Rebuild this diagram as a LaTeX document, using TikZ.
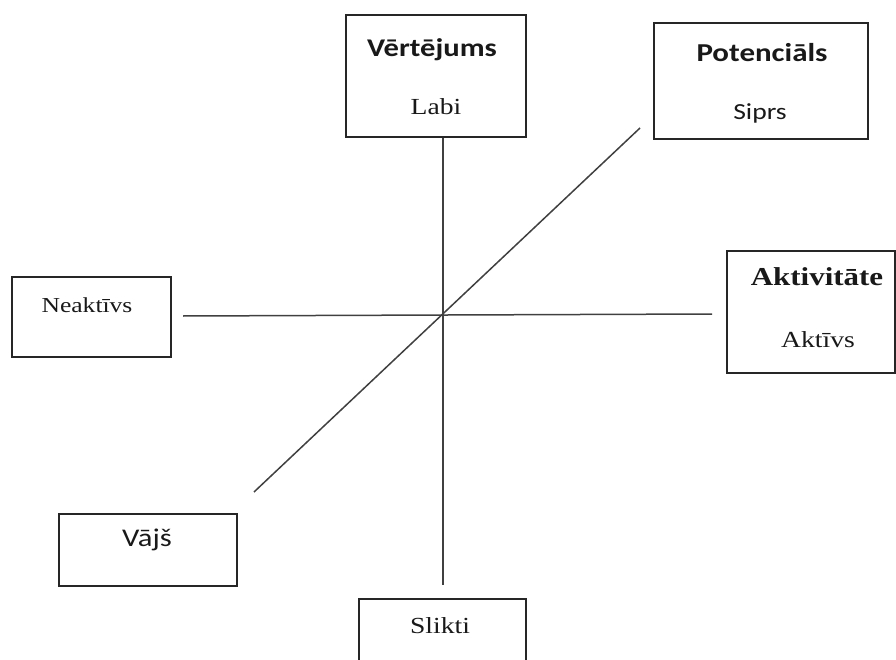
\documentclass[tikz,border=0pt]{standalone}
\usepackage{fontspec}
\setmainfont{Liberation Serif}
\newfontfamily\serifw[FakeStretch=1.2]{Liberation Serif}
\newfontfamily\sansw[FakeStretch=1.2]{Carlito}
\begin{document}
\begin{tikzpicture}[x=1pt,y=-1pt,
  box/.style={draw=black!85,line width=1.8pt,inner sep=0pt,fill=white},
  axis/.style={draw=black!75,line width=1.5pt},
  lbl/.style={inner sep=0pt,anchor=base,text=black!90}]
\useasboundingbox (0,0) rectangle (896,660);
\clip (0,0) rectangle (896,660);
% boxes
\node[box,minimum width=180pt,minimum height=122pt] (vert) at (436,76) {};
\node[box,minimum width=214pt,minimum height=116pt] (pot) at (761,81) {};
\node[box,minimum width=159pt,minimum height=80pt] (neak) at (91.5,317) {};
\node[box,minimum width=168pt,minimum height=122pt] (akt) at (811,312) {};
\node[box,minimum width=178pt,minimum height=72pt] (vaj) at (148,550) {};
\node[box,minimum width=167pt,minimum height=82pt] (slik) at (442.5,640) {};
% free ends of the axes
\coordinate (vbot) at (443,585);
\coordinate (hl) at (183,316);
\coordinate (hr) at (712,314);
\coordinate (dtop) at (640,128);
\coordinate (dbot) at (254,492);
\path[axis] (vert.south -| vbot) -- (vbot);
\path[axis] (hl) -- (hr);
\path[axis] (dtop) -- (dbot);
% texts
\node[lbl,font=\sansw\bfseries\fontsize{25.5}{28}\selectfont] (t1) at (432,57) {Vērtējums};
\node[lbl,font=\serifw\fontsize{23}{26}\selectfont] (t2) at (436,115) {Labi};
\node[lbl,font=\sansw\bfseries\fontsize{25.8}{28}\selectfont] (t3) at (762,62) {Potenciāls};
\node[lbl,font=\sansw\fontsize{23}{26}\selectfont] (t4) at (760,120) {Siprs};
\node[lbl,font=\serifw\fontsize{21.3}{24}\selectfont] (t5) at (87,312) {Neaktīvs};
\node[lbl,font=\serifw\bfseries\fontsize{25.8}{28}\selectfont] (t6) at (817,285) {Aktivitāte};
\node[lbl,font=\serifw\fontsize{23}{26}\selectfont] (t7) at (818,347) {Aktīvs};
\node[lbl,font=\sansw\fontsize{25.5}{28}\selectfont] (t8) at (147,546) {Vājš};
\node[lbl,font=\serifw\fontsize{23}{26}\selectfont] (t9) at (440,633) {Slikti};
\end{tikzpicture}
\end{document}
